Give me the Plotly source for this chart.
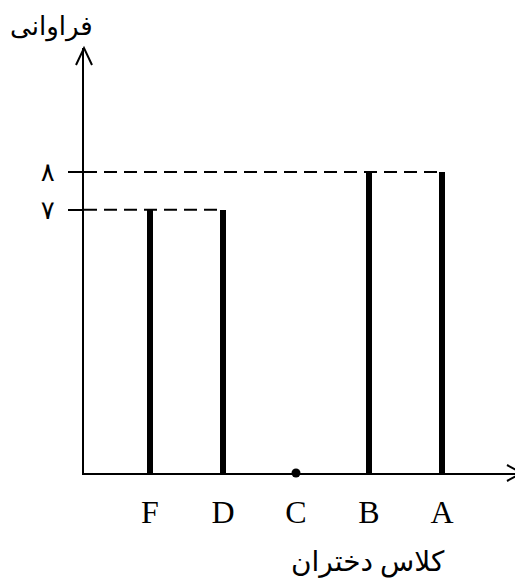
import plotly.graph_objects as go
import numpy as np

categories = ['F', 'D', 'C', 'B', 'A']
frequencies = [7, 7, 0, 8, 8]
ytick_values = [7, 8]
ytick_labels = ['۷', '۸']
x_title = 'کلاس دختران'
y_title = 'فراوانی'

FONT = 'Liberation Serif, Times New Roman, DejaVu Sans, serif'
INK = 'black'

# the page body keeps an 8px margin, so the figure is 8px smaller than the window
W, H = 515, 576
L, T, R, B = 76, 40, 1, 111
PW, PH = W - L - R, H - T - B

pos = np.arange(len(categories))
freq = np.array(frequencies)
x_range = [-0.904, 5.096]
y_range = [0, 11.3]

fig = go.Figure()

# dashed guide lines from the y axis to the last bar at each level
for v in sorted(set(frequencies)):
    if v == 0:
        continue
    x_end = pos[freq == v].max()
    fig.add_trace(go.Scatter(
        x=[x_range[0], x_end], y=[v, v], mode='lines',
        line=dict(color=INK, width=2, dash='13px,7px'),
        hoverinfo='skip', showlegend=False,
    ))

fig.add_trace(go.Bar(
    x=pos, y=freq, width=0.09,
    marker=dict(color=INK, line=dict(width=0)),
    showlegend=False,
))

# zero frequency shown as a dot on the axis
zero = freq == 0
fig.add_trace(go.Scatter(
    x=pos[zero], y=freq[zero], mode='markers',
    marker=dict(color=INK, size=9), cliponaxis=False,
    showlegend=False,
))

# open arrow heads on both axes
arrow = dict(type='path', line=dict(color=INK, width=2),
             xref='paper', yref='paper',
             xsizemode='pixel', ysizemode='pixel')
fig.add_shape(path='M -8,-17 L 0,0 L 8,-17', xanchor=0, yanchor=1, **arrow)
fig.add_shape(path='M -15,8 L 0,0 L -15,-8', xanchor=1, yanchor=0, **arrow)

fig.update_layout(
    width=W, height=H,
    plot_bgcolor='white', paper_bgcolor='white',
    font=dict(family=FONT, color=INK, size=32),
    margin=dict(l=L, r=R, t=T, b=B),
    bargap=0,
    xaxis=dict(
        range=x_range, showgrid=False, zeroline=False,
        showline=True, linecolor=INK, linewidth=2,
        tickvals=pos, ticktext=categories, ticks='',
        tickfont=dict(size=32), ticklabelstandoff=10,
    ),
    yaxis=dict(
        range=y_range, showgrid=False, zeroline=False,
        showline=True, linecolor=INK, linewidth=2,
        tickvals=ytick_values, ticktext=ytick_labels,
        ticks='outside', ticklen=14, tickwidth=2, tickcolor=INK,
        tickfont=dict(size=26), ticklabelstandoff=8,
    ),
)

# axis titles, placed in pixels from the plot corner
fig.add_annotation(text=x_title, xref='paper', yref='paper',
                   x=(368 - 84) / PW, y=-(562 - 473) / PH,
                   xanchor='center', yanchor='middle',
                   showarrow=False, font=dict(size=28))
fig.add_annotation(text=y_title, xref='paper', yref='paper',
                   x=(51 - 84) / PW, y=(473 - 27) / PH,
                   xanchor='center', yanchor='middle',
                   showarrow=False, font=dict(size=26))

fig.write_html('out.html')
